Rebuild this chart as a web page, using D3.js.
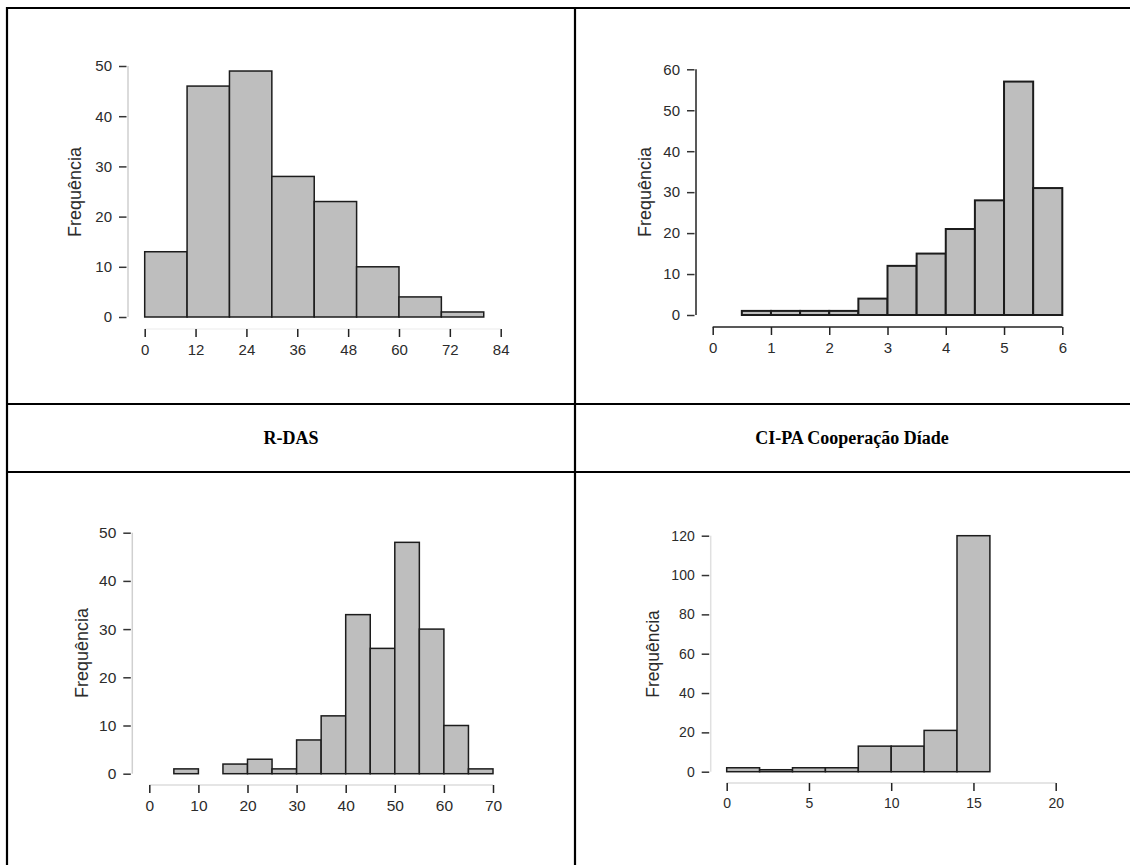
<!DOCTYPE html>
<html>
<head>
<meta charset="utf-8">
<script src="https://cdn.jsdelivr.net/npm/d3@7"></script>
<style>
  html, body { margin: 0; padding: 0; background: #fff; }
  svg { display: block; }
</style>
</head>
<body>
<svg id="chart" width="1130" height="865"></svg>
<script>
// ---------- DATA ----------
const titleLeft = "R-DAS";
const titleRight = "CI-PA Cooperação Díade";
const yLabel = "Frequência";

// Panel 1 (top-left)
const p1Breaks = [0, 10, 20, 30, 40, 50, 60, 70, 80];
const p1Counts = [13, 46, 49, 28, 23, 10, 4, 1];
const p1XTicks = [0, 12, 24, 36, 48, 60, 72, 84];
const p1YTicks = [0, 10, 20, 30, 40, 50];

// Panel 2 (top-right)
const p2Breaks = [0.5, 1, 1.5, 2, 2.5, 3, 3.5, 4, 4.5, 5, 5.5, 6];
const p2Counts = [1, 1, 1, 1, 4, 12, 15, 21, 28, 57, 31];
const p2XTicks = [0, 1, 2, 3, 4, 5, 6];
const p2YTicks = [0, 10, 20, 30, 40, 50, 60];

// Panel 3 (bottom-left)
const p3Breaks = [5, 10, 15, 20, 25, 30, 35, 40, 45, 50, 55, 60, 65, 70];
const p3Counts = [1, 0, 2, 3, 1, 7, 12, 33, 26, 48, 30, 10, 1];
const p3XTicks = [0, 10, 20, 30, 40, 50, 60, 70];
const p3YTicks = [0, 10, 20, 30, 40, 50];

// Panel 4 (bottom-right)
const p4Breaks = [0, 2, 4, 6, 8, 10, 12, 14, 16];
const p4Counts = [2, 1, 2, 2, 13, 13, 21, 120];
const p4XTicks = [0, 5, 10, 15, 20];
const p4YTicks = [0, 20, 40, 60, 80, 100, 120];

// ---------- LAYOUT ----------
const svg = d3.select("#chart");
const FILL = "#bebebe";

const panels = [
  { breaks: p1Breaks, counts: p1Counts, xTicks: p1XTicks, yTicks: p1YTicks,
    xRange: [144.7, 500.7], yRange: [317, 66], yAxisX: 128, xAxisY: 329,
    xAxisColor: "#f2f2f2", yAxisColor: "#cfcfcf", stroke: 1.5, tickFont: 15,
    labFont: 18, labX: 75, labY: 192 },
  { breaks: p2Breaks, counts: p2Counts, xTicks: p2XTicks, yTicks: p2YTicks,
    xRange: [712.7, 1062.3], yRange: [315, 69.3], yAxisX: 696, xAxisY: 327,
    xAxisColor: "#222", yAxisColor: "#222", stroke: 2, tickFont: 15,
    labFont: 18, labX: 645, labY: 192 },
  { breaks: p3Breaks, counts: p3Counts, xTicks: p3XTicks, yTicks: p3YTicks,
    xRange: [149.3, 493], yRange: [773.7, 532.7], yAxisX: 132.3, xAxisY: 785,
    xAxisColor: "#dcdcdc", yAxisColor: "#d0d0d0", stroke: 1.5, tickFont: 15.5,
    labFont: 18, labX: 82, labY: 653 },
  { breaks: p4Breaks, counts: p4Counts, xTicks: p4XTicks, yTicks: p4YTicks,
    xRange: [726.7, 1055.7], yRange: [771.7, 535.7], yAxisX: 710.7, xAxisY: 783,
    xAxisColor: "#dcdcdc", yAxisColor: "#e0e0e0", stroke: 1.5, tickFont: 14,
    labFont: 17.5, labX: 653, labY: 654 }
];

panels.forEach(p => {
  const x = d3.scaleLinear()
    .domain([p.xTicks[0], p.xTicks[p.xTicks.length - 1]])
    .range(p.xRange);
  const y = d3.scaleLinear()
    .domain([0, p.yTicks[p.yTicks.length - 1]])
    .range(p.yRange);

  const g = svg.append("g");

  // bars
  const bins = p.counts.map((c, i) => ({ x0: p.breaks[i], x1: p.breaks[i + 1], c }));
  g.selectAll("rect.bar").data(bins).enter().append("rect")
    .attr("class", "bar")
    .attr("x", d => x(d.x0))
    .attr("width", d => x(d.x1) - x(d.x0))
    .attr("y", d => y(d.c))
    .attr("height", d => y(0) - y(d.c))
    .attr("fill", FILL)
    .attr("stroke", "#1c1c1c")
    .attr("stroke-width", p.stroke);

  // y axis
  const yAx = g.append("g").attr("transform", `translate(${p.yAxisX},0)`)
    .call(d3.axisLeft(y).tickValues(p.yTicks).tickSize(0).tickPadding(16)
      .tickFormat(d3.format("d")));
  yAx.select(".domain").remove();
  yAx.append("line")
    .attr("x1", 0).attr("x2", 0)
    .attr("y1", y(p.yTicks[0])).attr("y2", y(p.yTicks[p.yTicks.length - 1]))
    .attr("stroke", p.yAxisColor).attr("stroke-width", 1.5);
  yAx.selectAll(".tick").append("line")
    .attr("x1", -9).attr("x2", -1.5)
    .attr("stroke", "#333").attr("stroke-width", 1.5);
  yAx.selectAll(".tick text")
    .attr("font-family", "Liberation Sans, Arial, sans-serif")
    .attr("font-size", p.tickFont).attr("fill", "#2b2b2b");

  // x axis
  const xAx = g.append("g").attr("transform", `translate(0,${p.xAxisY})`)
    .call(d3.axisBottom(x).tickValues(p.xTicks).tickSize(8).tickPadding(7)
      .tickFormat(d3.format("d")));
  xAx.select(".domain")
    .attr("d", `M${x.range()[0]},0H${x.range()[1]}`)
    .attr("stroke", p.xAxisColor).attr("stroke-width", 1.5);
  xAx.selectAll(".tick line").attr("stroke", "#222").attr("stroke-width", 1.5);
  xAx.selectAll(".tick text")
    .attr("font-family", "Liberation Sans, Arial, sans-serif")
    .attr("font-size", p.tickFont).attr("fill", "#2b2b2b");

  // y label
  g.append("text")
    .attr("transform", `translate(${p.labX},${p.labY}) rotate(-90)`)
    .attr("text-anchor", "middle")
    .attr("dominant-baseline", "central")
    .attr("font-family", "Liberation Sans, Arial, sans-serif")
    .attr("font-size", p.labFont)
    .attr("fill", "#2b2b2b")
    .text(yLabel);
});

// ---------- TABLE GRID ----------
const grid = svg.append("g").attr("stroke", "#000").attr("stroke-width", 2.2);
grid.append("line").attr("x1", 6).attr("x2", 1130).attr("y1", 8).attr("y2", 8);
grid.append("line").attr("x1", 7).attr("x2", 7).attr("y1", 7).attr("y2", 865);
grid.append("line").attr("x1", 575).attr("x2", 575).attr("y1", 7).attr("y2", 865);
grid.append("line").attr("x1", 7).attr("x2", 1130).attr("y1", 404).attr("y2", 404);
grid.append("line").attr("x1", 7).attr("x2", 1130).attr("y1", 472).attr("y2", 472);

// titles
svg.append("text").attr("x", 291).attr("y", 444)
  .attr("text-anchor", "middle")
  .attr("font-family", "Liberation Serif, Times New Roman, serif")
  .attr("font-weight", "bold").attr("font-size", 18)
  .text(titleLeft);
svg.append("text").attr("x", 852).attr("y", 444)
  .attr("text-anchor", "middle")
  .attr("font-family", "Liberation Serif, Times New Roman, serif")
  .attr("font-weight", "bold").attr("font-size", 18)
  .text(titleRight);
</script>
</body>
</html>
